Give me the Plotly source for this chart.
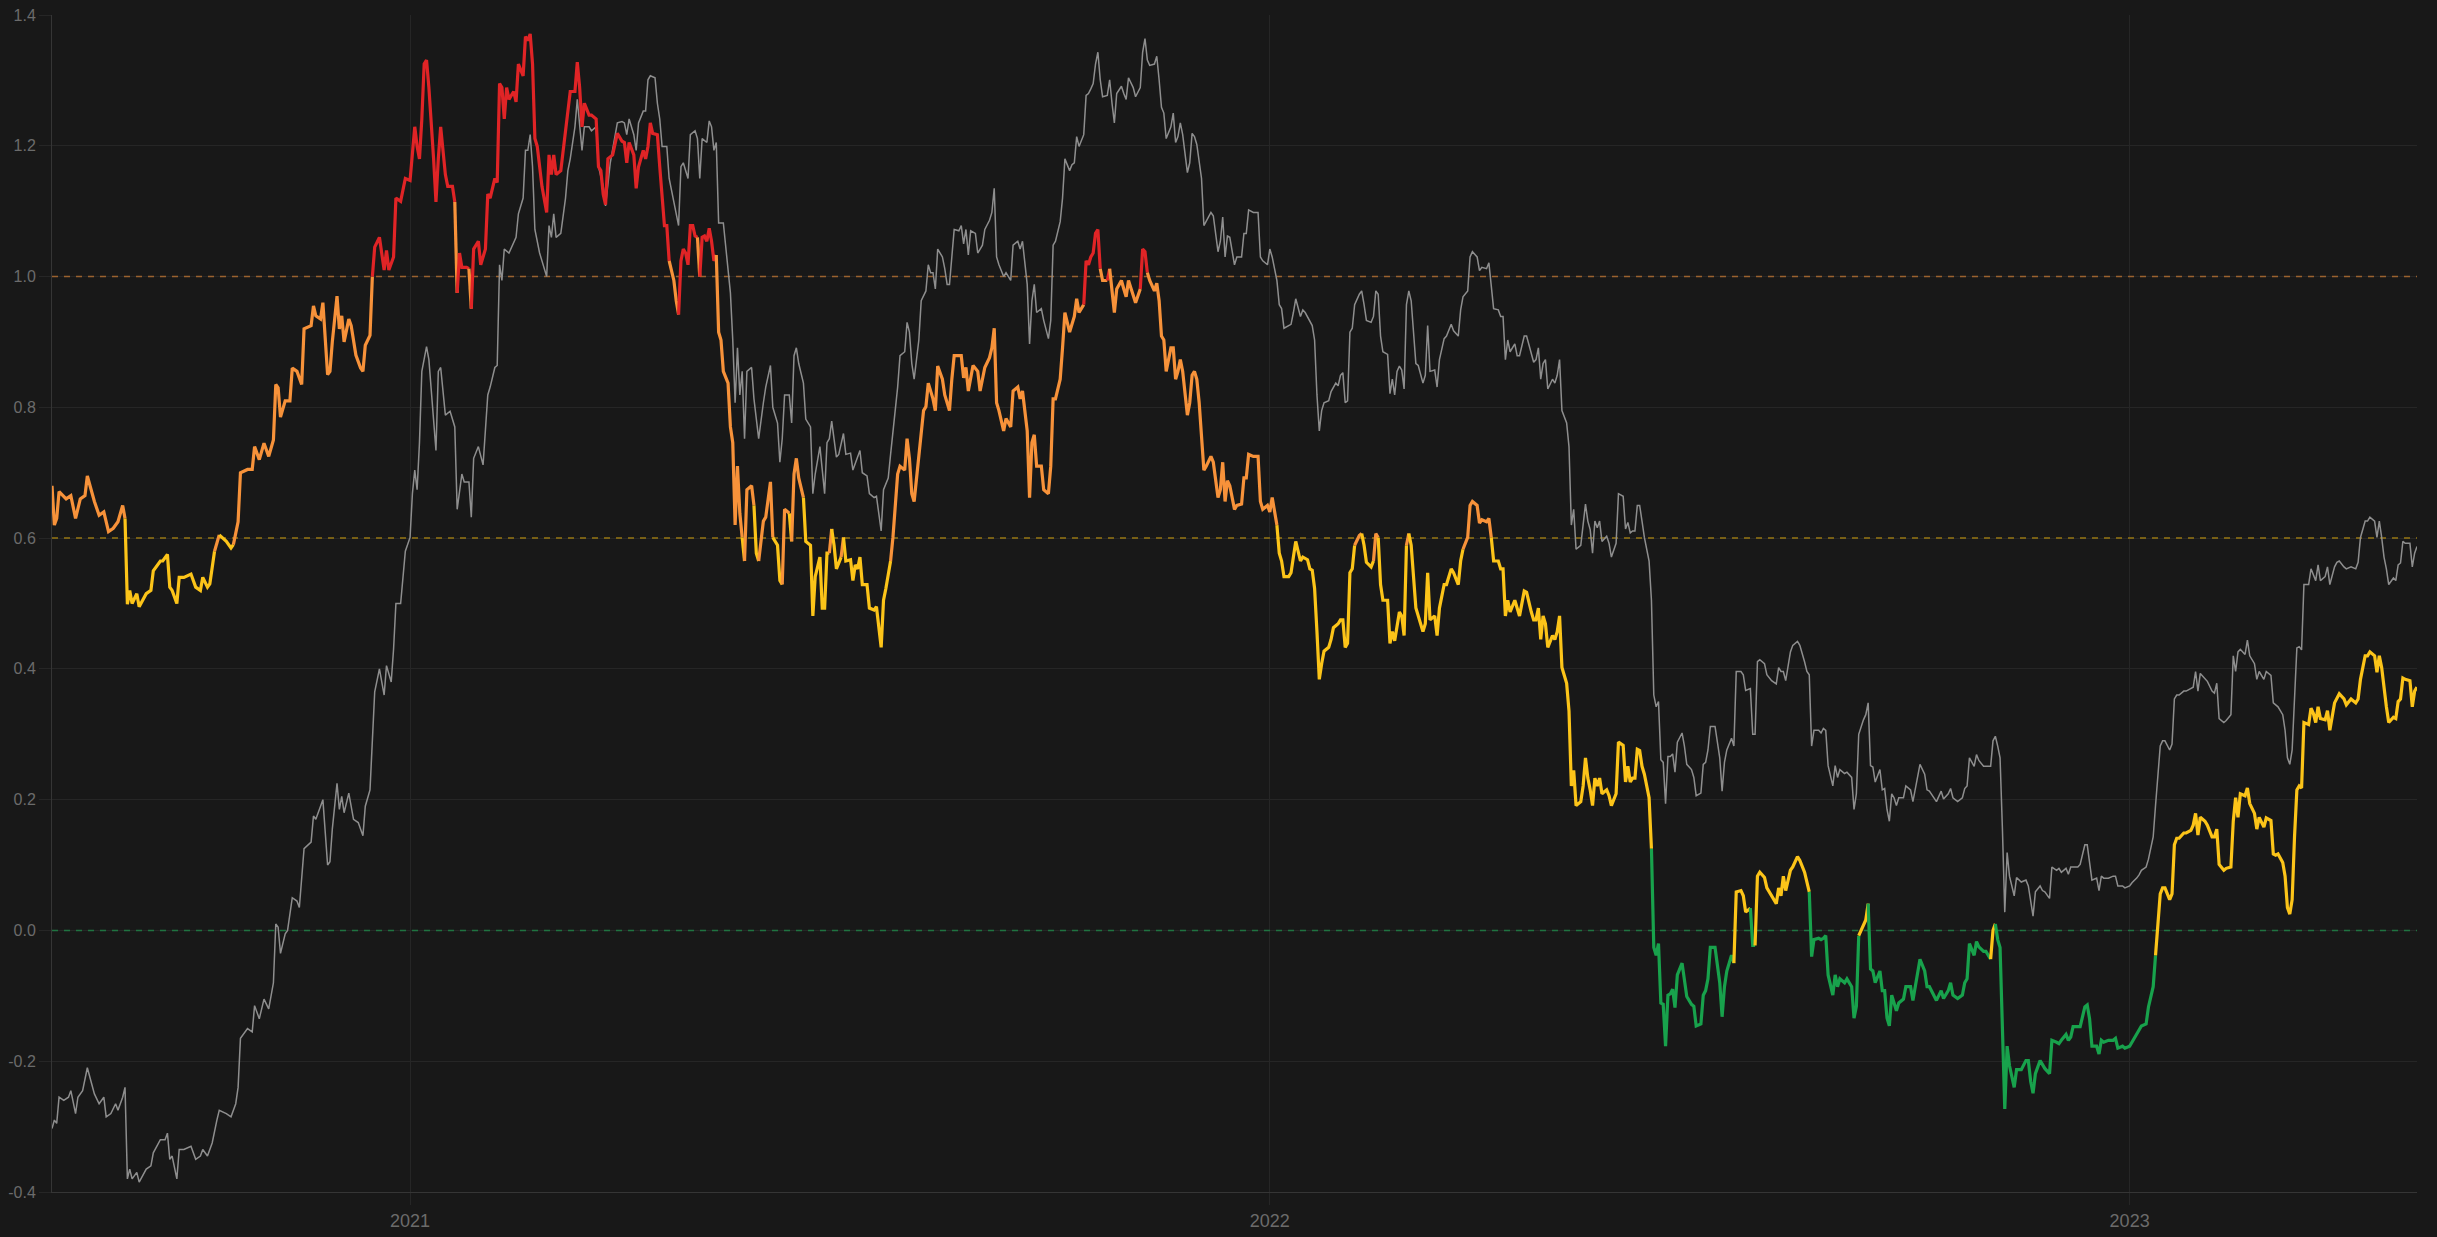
import pandas as pd
import plotly.graph_objects as go

START_DATE = "2020-08-02"

# (days since START_DATE, value)
gray_points = [
    (0, -0.303), (1, -0.29), (2, -0.295), (3, -0.255), (5, -0.26), (7, -0.255), (8, -0.245), (10, -0.28),
    (11, -0.255), (13, -0.245), (15, -0.21), (18, -0.25), (20, -0.265), (21, -0.26), (22, -0.255), (23, -0.285),
    (25, -0.28), (27, -0.265), (28, -0.275), (30, -0.255), (31, -0.24), (32, -0.38), (33, -0.365), (34, -0.38),
    (36, -0.37), (37, -0.385), (40, -0.365), (42, -0.36), (43, -0.34), (46, -0.32), (48, -0.32), (49, -0.31),
    (50, -0.35), (51, -0.345), (53, -0.38), (54, -0.335), (56, -0.335), (59, -0.33), (61, -0.35), (63, -0.345),
    (64, -0.335), (66, -0.345), (68, -0.325), (70, -0.29), (71, -0.275), (74, -0.28), (76, -0.285), (78, -0.265),
    (79, -0.24), (80, -0.165), (83, -0.15), (85, -0.155), (86, -0.115), (88, -0.135), (90, -0.105), (92, -0.12),
    (94, -0.08), (95, 0.01), (96, 0.005), (97, -0.035), (99, -0.005), (100, 0.0), (102, 0.05), (104, 0.045),
    (105, 0.035), (107, 0.125), (110, 0.135), (111, 0.175), (112, 0.17), (115, 0.2), (117, 0.10), (118, 0.105),
    (119, 0.155), (121, 0.225), (122, 0.185), (123, 0.205), (124, 0.18), (126, 0.21), (128, 0.17), (130, 0.165),
    (132, 0.145), (133, 0.19), (135, 0.215), (137, 0.365), (139, 0.40), (141, 0.36), (142, 0.405), (144, 0.38),
    (145, 0.43), (146, 0.50), (148, 0.50), (150, 0.58), (152, 0.601), (153, 0.668), (154, 0.704), (155, 0.674),
    (156, 0.746), (157, 0.855), (159, 0.893), (160, 0.873), (162, 0.782), (163, 0.734), (164, 0.855), (165, 0.861),
    (167, 0.788), (169, 0.794), (171, 0.77), (172, 0.644), (174, 0.698), (175, 0.686), (177, 0.686), (178, 0.632),
    (179, 0.722), (181, 0.74), (183, 0.712), (185, 0.819), (186, 0.831), (188, 0.861), (189, 0.864), (190, 1.018),
    (191, 0.994), (192, 1.042), (194, 1.036), (196, 1.054), (197, 1.06), (198, 1.096), (200, 1.12), (201, 1.193),
    (202, 1.193), (203, 1.217), (204, 1.168), (205, 1.072), (207, 1.036), (208, 1.024), (210, 1.0), (211, 1.078),
    (212, 1.06), (213, 1.096), (214, 1.06), (216, 1.066), (218, 1.12), (219, 1.162), (220, 1.18), (222, 1.229),
    (223, 1.271), (225, 1.193), (226, 1.229), (228, 1.229), (229, 1.223), (231, 1.229), (232, 1.168), (234, 1.138),
    (235, 1.108), (237, 1.174), (238, 1.193), (240, 1.235), (242, 1.237), (243, 1.235), (244, 1.217), (245, 1.241),
    (247, 1.217), (248, 1.193), (249, 1.235), (251, 1.253), (252, 1.253), (253, 1.301), (254, 1.307), (256, 1.304),
    (257, 1.265), (258, 1.241), (259, 1.199), (261, 1.199), (262, 1.15), (264, 1.114), (265, 1.096), (266, 1.078),
    (267, 1.168), (268, 1.174), (270, 1.15), (271, 1.217), (273, 1.223), (274, 1.211), (275, 1.15), (276, 1.211),
    (278, 1.205), (279, 1.238), (280, 1.229), (281, 1.193), (282, 1.205), (283, 1.082), (285, 1.082), (287, 1.006),
    (288, 0.975), (289, 0.903), (290, 0.807), (291, 0.891), (292, 0.819), (293, 0.855), (294, 0.752), (295, 0.855),
    (297, 0.861), (298, 0.813), (300, 0.752), (302, 0.807), (303, 0.831), (305, 0.864), (306, 0.8), (308, 0.776),
    (309, 0.716), (310, 0.752), (311, 0.819), (313, 0.819), (314, 0.776), (315, 0.879), (316, 0.891), (317, 0.867),
    (319, 0.837), (320, 0.782), (322, 0.77), (323, 0.668), (324, 0.698), (326, 0.74), (328, 0.668), (329, 0.746),
    (330, 0.752), (331, 0.779), (333, 0.724), (334, 0.728), (336, 0.76), (337, 0.728), (339, 0.73), (340, 0.704),
    (342, 0.724), (343, 0.734), (344, 0.7), (346, 0.695), (347, 0.668), (349, 0.662), (350, 0.664), (352, 0.611),
    (353, 0.674), (355, 0.692), (356, 0.728), (357, 0.764), (359, 0.831), (360, 0.879), (362, 0.885), (363, 0.93),
    (364, 0.915), (365, 0.867), (366, 0.843), (368, 0.903), (369, 0.963), (371, 0.978), (372, 1.018), (373, 1.006),
    (374, 1.006), (375, 0.981), (376, 1.042), (378, 1.03), (379, 1.012), (380, 0.988), (381, 0.988), (382, 1.03),
    (383, 1.072), (385, 1.07), (386, 1.078), (387, 1.05), (388, 1.072), (389, 1.033), (390, 1.07), (392, 1.066),
    (393, 1.036), (395, 1.048), (396, 1.072), (398, 1.086), (399, 1.098), (400, 1.135), (401, 1.03), (402, 1.018),
    (404, 1.0), (405, 1.006), (407, 0.994), (408, 1.048), (410, 1.054), (411, 1.042), (412, 1.054), (414, 0.988),
    (415, 0.897), (416, 0.963), (417, 0.988), (418, 0.945), (420, 0.951), (421, 0.933), (423, 0.905), (424, 0.933),
    (425, 1.048), (426, 1.054), (428, 1.084), (429, 1.12), (430, 1.18), (432, 1.162), (433, 1.171), (434, 1.174),
    (435, 1.214), (436, 1.199), (438, 1.217), (439, 1.277), (440, 1.28), (441, 1.287), (442, 1.295), (443, 1.325),
    (444, 1.343), (445, 1.301), (446, 1.275), (448, 1.277), (449, 1.301), (450, 1.265), (451, 1.235), (452, 1.28),
    (454, 1.291), (455, 1.28), (456, 1.271), (457, 1.304), (459, 1.289), (460, 1.275), (462, 1.289), (463, 1.343),
    (464, 1.364), (465, 1.331), (466, 1.323), (468, 1.325), (469, 1.337), (470, 1.301), (471, 1.259), (472, 1.25),
    (473, 1.211), (475, 1.229), (476, 1.25), (477, 1.205), (478, 1.214), (479, 1.235), (480, 1.217), (482, 1.159),
    (483, 1.174), (484, 1.219), (485, 1.214), (486, 1.202), (488, 1.15), (489, 1.078), (490, 1.084), (492, 1.098),
    (493, 1.093), (495, 1.038), (496, 1.054), (497, 1.091), (498, 1.03), (499, 1.062), (500, 1.06), (502, 1.018),
    (503, 1.03), (505, 1.03), (506, 1.066), (507, 1.066), (508, 1.102), (510, 1.098), (512, 1.098), (513, 1.03),
    (514, 1.024), (516, 1.018), (517, 1.042), (518, 1.03), (519, 1.012), (520, 0.994), (521, 0.957), (522, 0.951),
    (523, 0.921), (525, 0.925), (526, 0.927), (527, 0.945), (528, 0.966), (530, 0.939), (531, 0.949), (532, 0.945),
    (534, 0.933), (535, 0.925), (536, 0.903), (537, 0.819), (538, 0.764), (539, 0.795), (540, 0.807), (542, 0.81),
    (543, 0.824), (545, 0.837), (546, 0.833), (547, 0.849), (548, 0.853), (549, 0.807), (550, 0.81), (551, 0.915),
    (552, 0.921), (553, 0.957), (555, 0.973), (556, 0.978), (557, 0.957), (558, 0.933), (560, 0.93), (561, 0.939),
    (562, 0.978), (563, 0.973), (564, 0.909), (565, 0.885), (567, 0.881), (568, 0.821), (569, 0.843), (570, 0.819),
    (571, 0.855), (572, 0.863), (573, 0.857), (574, 0.828), (575, 0.957), (576, 0.978), (577, 0.963), (579, 0.867),
    (580, 0.864), (582, 0.837), (583, 0.849), (584, 0.925), (585, 0.855), (587, 0.857), (588, 0.831), (589, 0.873),
    (591, 0.905), (592, 0.909), (594, 0.927), (595, 0.917), (597, 0.909), (598, 0.949), (599, 0.969), (601, 0.978),
    (602, 1.03), (603, 1.038), (605, 1.03), (606, 1.009), (607, 1.014), (609, 1.012), (610, 1.021), (611, 0.988),
    (612, 0.951), (614, 0.949), (615, 0.939), (616, 0.939), (617, 0.873), (618, 0.903), (619, 0.885), (621, 0.897),
    (622, 0.879), (623, 0.879), (625, 0.909), (626, 0.909), (628, 0.881), (629, 0.869), (630, 0.873), (631, 0.891),
    (632, 0.843), (633, 0.867), (634, 0.873), (635, 0.828), (637, 0.843), (638, 0.837), (639, 0.849), (640, 0.873),
    (641, 0.795), (643, 0.776), (644, 0.74), (645, 0.62), (646, 0.644), (647, 0.583), (649, 0.589), (650, 0.62),
    (651, 0.652), (652, 0.626), (653, 0.613), (654, 0.577), (655, 0.626), (656, 0.616), (657, 0.626), (658, 0.595),
    (660, 0.603), (661, 0.592), (662, 0.571), (664, 0.592), (665, 0.668), (667, 0.664), (668, 0.614), (669, 0.624),
    (670, 0.608), (671, 0.611), (672, 0.611), (673, 0.65), (674, 0.65), (675, 0.626), (676, 0.601), (678, 0.565),
    (679, 0.505), (680, 0.36), (681, 0.342), (682, 0.35), (683, 0.261), (684, 0.257), (685, 0.194), (686, 0.266),
    (687, 0.266), (688, 0.27), (689, 0.242), (690, 0.288), (692, 0.302), (693, 0.282), (694, 0.254), (696, 0.246),
    (697, 0.234), (698, 0.206), (700, 0.21), (701, 0.254), (702, 0.257), (703, 0.276), (704, 0.312), (706, 0.312),
    (708, 0.264), (709, 0.213), (710, 0.257), (711, 0.276), (713, 0.294), (714, 0.282), (715, 0.396), (717, 0.396),
    (718, 0.391), (719, 0.367), (721, 0.37), (722, 0.3), (723, 0.3), (724, 0.411), (725, 0.414), (727, 0.408),
    (728, 0.391), (730, 0.382), (732, 0.377), (733, 0.402), (734, 0.396), (735, 0.396), (736, 0.382), (738, 0.426),
    (739, 0.436), (741, 0.442), (742, 0.436), (744, 0.411), (745, 0.396), (746, 0.391), (747, 0.282), (748, 0.306),
    (750, 0.306), (751, 0.302), (752, 0.309), (753, 0.306), (754, 0.252), (756, 0.221), (757, 0.252), (758, 0.234),
    (759, 0.246), (761, 0.24), (762, 0.242), (764, 0.234), (765, 0.185), (766, 0.209), (767, 0.3), (769, 0.322),
    (770, 0.33), (771, 0.348), (772, 0.252), (773, 0.25), (774, 0.227), (776, 0.246), (777, 0.215), (778, 0.217),
    (779, 0.185), (780, 0.167), (781, 0.209), (782, 0.203), (783, 0.191), (784, 0.203), (786, 0.203), (787, 0.221),
    (789, 0.215), (790, 0.197), (792, 0.239), (793, 0.254), (795, 0.239), (796, 0.215), (797, 0.213), (799, 0.203),
    (800, 0.197), (802, 0.213), (803, 0.201), (805, 0.209), (806, 0.217), (807, 0.203), (809, 0.197), (811, 0.203),
    (812, 0.217), (813, 0.221), (814, 0.264), (816, 0.251), (817, 0.269), (818, 0.26), (820, 0.251), (821, 0.251),
    (823, 0.251), (824, 0.29), (825, 0.297), (826, 0.282), (827, 0.264), (828, 0.155), (829, 0.028), (830, 0.119),
    (831, 0.083), (833, 0.053), (834, 0.081), (836, 0.074), (838, 0.077), (839, 0.068), (840, 0.041), (841, 0.022),
    (842, 0.059), (844, 0.068), (845, 0.061), (846, 0.059), (848, 0.049), (849, 0.097), (851, 0.092), (852, 0.095),
    (853, 0.089), (855, 0.095), (856, 0.086), (857, 0.097), (858, 0.097), (860, 0.097), (861, 0.101), (863, 0.131),
    (864, 0.131), (865, 0.107), (866, 0.077), (868, 0.08), (869, 0.061), (870, 0.083), (871, 0.08), (873, 0.08),
    (875, 0.083), (876, 0.083), (877, 0.068), (879, 0.068), (880, 0.065), (882, 0.068), (883, 0.073), (885, 0.08),
    (886, 0.085), (887, 0.092), (889, 0.097), (890, 0.109), (892, 0.143), (893, 0.191), (894, 0.245), (895, 0.282),
    (896, 0.29), (897, 0.29), (899, 0.276), (900, 0.285), (901, 0.354), (902, 0.36), (903, 0.36), (905, 0.366),
    (906, 0.366), (908, 0.37), (909, 0.372), (910, 0.396), (911, 0.366), (912, 0.393), (914, 0.384), (915, 0.381),
    (917, 0.366), (918, 0.363), (919, 0.378), (920, 0.324), (922, 0.318), (923, 0.321), (925, 0.33), (926, 0.42),
    (927, 0.396), (928, 0.426), (929, 0.43), (931, 0.422), (932, 0.444), (933, 0.42), (935, 0.408), (936, 0.384),
    (937, 0.396), (939, 0.384), (940, 0.396), (942, 0.39), (943, 0.348), (944, 0.345), (945, 0.342), (947, 0.33),
    (948, 0.306), (949, 0.264), (950, 0.254), (951, 0.276), (952, 0.366), (953, 0.432), (954, 0.434), (955, 0.429),
    (956, 0.529), (958, 0.529), (959, 0.553), (960, 0.544), (961, 0.535), (962, 0.559), (963, 0.535), (965, 0.541),
    (966, 0.556), (967, 0.529), (969, 0.556), (970, 0.563), (971, 0.565), (973, 0.556), (974, 0.553), (976, 0.556),
    (978, 0.553), (979, 0.563), (980, 0.601), (982, 0.626), (983, 0.626), (984, 0.632), (986, 0.626), (987, 0.601),
    (988, 0.626), (989, 0.601), (990, 0.571), (991, 0.553), (992, 0.529), (994, 0.539), (995, 0.535), (996, 0.559),
    (997, 0.562), (998, 0.595), (999, 0.592), (1001, 0.592), (1002, 0.556), (1003, 0.577), (1004, 0.587),
]

signal_points = [
    (0, 0.68), (1, 0.62), (2, 0.63), (3, 0.671), (6, 0.66), (8, 0.665), (10, 0.63), (12, 0.66), (14, 0.665),
    (15, 0.695), (18, 0.656), (20, 0.635), (22, 0.64), (24, 0.61), (26, 0.615), (28, 0.625), (30, 0.65), (31, 0.63),
    (32, 0.499), (33, 0.52), (34, 0.50), (36, 0.515), (37, 0.495), (40, 0.515), (42, 0.52), (43, 0.55), (46, 0.565),
    (47, 0.565), (49, 0.575), (50, 0.525), (51, 0.52), (53, 0.50), (54, 0.54), (56, 0.54), (59, 0.545), (61, 0.525),
    (63, 0.52), (64, 0.54), (66, 0.525), (67, 0.53), (69, 0.58), (71, 0.605), (74, 0.595), (76, 0.585), (77, 0.59),
    (79, 0.625), (80, 0.70), (83, 0.705), (85, 0.705), (86, 0.74), (88, 0.72), (90, 0.745), (92, 0.725), (94, 0.75),
    (95, 0.835), (96, 0.83), (97, 0.785), (99, 0.81), (101, 0.81), (102, 0.86), (104, 0.855), (106, 0.835),
    (107, 0.92), (110, 0.925), (111, 0.955), (112, 0.94), (114, 0.935), (115, 0.96), (117, 0.85), (118, 0.855),
    (119, 0.90), (121, 0.97), (122, 0.92), (123, 0.94), (124, 0.90), (126, 0.935), (127, 0.925), (129, 0.88),
    (131, 0.86), (132, 0.855), (133, 0.895), (135, 0.91), (136, 1.0), (137, 1.045), (139, 1.06), (141, 1.01),
    (142, 1.04), (143, 1.01), (145, 1.03), (146, 1.12), (148, 1.115), (150, 1.15), (152, 1.147), (153, 1.193),
    (154, 1.229), (155, 1.199), (156, 1.18), (157, 1.241), (158, 1.325), (159, 1.331), (160, 1.289), (162, 1.18),
    (163, 1.114), (164, 1.18), (165, 1.229), (167, 1.156), (168, 1.138), (170, 1.138), (171, 1.114), (172, 0.975),
    (173, 1.036), (174, 1.014), (176, 1.014), (177, 1.012), (178, 0.951), (179, 1.042), (181, 1.054), (182, 1.018),
    (184, 1.042), (185, 1.126), (186, 1.12), (188, 1.15), (189, 1.144), (190, 1.295), (191, 1.289), (192, 1.241),
    (193, 1.289), (194, 1.271), (196, 1.283), (197, 1.267), (198, 1.325), (200, 1.307), (201, 1.367), (202, 1.361),
    (203, 1.371), (204, 1.325), (205, 1.211), (206, 1.199), (208, 1.138), (209, 1.114), (210, 1.098), (211, 1.186),
    (212, 1.156), (213, 1.186), (214, 1.156), (216, 1.162), (218, 1.223), (219, 1.259), (220, 1.283), (222, 1.283),
    (223, 1.328), (224, 1.289), (225, 1.229), (226, 1.265), (228, 1.247), (229, 1.247), (231, 1.241), (232, 1.168),
    (233, 1.162), (234, 1.126), (235, 1.11), (236, 1.18), (238, 1.186), (240, 1.219), (242, 1.207), (243, 1.205),
    (244, 1.174), (245, 1.205), (247, 1.186), (248, 1.135), (249, 1.168), (251, 1.193), (252, 1.18), (253, 1.199),
    (254, 1.235), (255, 1.219), (257, 1.217), (258, 1.168), (259, 1.12), (260, 1.078), (261, 1.078), (262, 1.024),
    (264, 0.994), (265, 0.963), (266, 0.942), (267, 1.024), (268, 1.042), (269, 1.036), (270, 1.018), (271, 1.078),
    (272, 1.078), (273, 1.062), (274, 1.06), (275, 1.0), (276, 1.06), (277, 1.062), (278, 1.054), (279, 1.074),
    (280, 1.054), (281, 1.024), (282, 1.033), (283, 0.915), (284, 0.903), (285, 0.855), (287, 0.837), (288, 0.77),
    (289, 0.746), (290, 0.62), (291, 0.71), (292, 0.638), (293, 0.601), (294, 0.565), (295, 0.674), (297, 0.68),
    (298, 0.65), (299, 0.577), (300, 0.565), (302, 0.626), (303, 0.632), (305, 0.686), (306, 0.601), (308, 0.589),
    (309, 0.535), (310, 0.529), (311, 0.644), (313, 0.638), (314, 0.595), (315, 0.698), (316, 0.722), (317, 0.692),
    (319, 0.662), (320, 0.595), (322, 0.589), (323, 0.481), (324, 0.541), (326, 0.571), (327, 0.493), (328, 0.493),
    (329, 0.577), (330, 0.577), (331, 0.614), (332, 0.589), (333, 0.553), (335, 0.571), (336, 0.601), (337, 0.565),
    (339, 0.567), (340, 0.535), (341, 0.559), (342, 0.553), (343, 0.571), (344, 0.529), (346, 0.529), (347, 0.493),
    (349, 0.49), (350, 0.495), (352, 0.433), (353, 0.505), (354, 0.523), (356, 0.565), (357, 0.601), (359, 0.698),
    (360, 0.71), (362, 0.704), (363, 0.752), (364, 0.722), (365, 0.668), (366, 0.656), (368, 0.722), (370, 0.795),
    (371, 0.801), (372, 0.837), (374, 0.813), (375, 0.795), (376, 0.863), (378, 0.843), (379, 0.819), (381, 0.795),
    (382, 0.843), (383, 0.879), (385, 0.879), (386, 0.879), (387, 0.845), (388, 0.861), (389, 0.825), (391, 0.864),
    (393, 0.855), (394, 0.825), (395, 0.843), (396, 0.861), (398, 0.876), (399, 0.891), (400, 0.921), (401, 0.807),
    (402, 0.795), (404, 0.764), (405, 0.783), (407, 0.77), (408, 0.825), (410, 0.831), (411, 0.813), (412, 0.825),
    (414, 0.764), (415, 0.662), (416, 0.746), (417, 0.758), (418, 0.71), (420, 0.71), (421, 0.674), (423, 0.668),
    (424, 0.71), (425, 0.813), (426, 0.813), (428, 0.843), (429, 0.891), (430, 0.945), (432, 0.915), (433, 0.927),
    (434, 0.939), (435, 0.966), (436, 0.945), (438, 0.957), (439, 1.024), (440, 1.018), (441, 1.03), (442, 1.036),
    (443, 1.066), (444, 1.072), (445, 1.012), (446, 0.994), (448, 0.994), (449, 1.012), (450, 0.975), (451, 0.945),
    (452, 0.981), (454, 0.994), (455, 0.981), (456, 0.969), (457, 0.994), (459, 0.969), (460, 0.96), (462, 0.981),
    (463, 1.042), (464, 1.038), (465, 1.006), (466, 0.994), (468, 0.978), (469, 0.99), (470, 0.963), (471, 0.909),
    (472, 0.903), (473, 0.855), (475, 0.891), (476, 0.891), (477, 0.843), (478, 0.855), (479, 0.873), (480, 0.855),
    (482, 0.788), (483, 0.807), (484, 0.849), (485, 0.855), (486, 0.843), (487, 0.807), (489, 0.704), (490, 0.71),
    (492, 0.725), (493, 0.716), (495, 0.662), (496, 0.674), (497, 0.716), (498, 0.656), (499, 0.688), (500, 0.68),
    (502, 0.644), (503, 0.65), (505, 0.652), (506, 0.692), (507, 0.692), (508, 0.728), (510, 0.725), (512, 0.725),
    (513, 0.656), (514, 0.644), (516, 0.65), (517, 0.64), (518, 0.662), (519, 0.644), (520, 0.62), (521, 0.577),
    (522, 0.565), (523, 0.541), (525, 0.541), (526, 0.547), (527, 0.571), (528, 0.595), (530, 0.565), (531, 0.571),
    (533, 0.567), (534, 0.553), (535, 0.551), (536, 0.523), (537, 0.457), (538, 0.384), (539, 0.408), (540, 0.427),
    (542, 0.433), (543, 0.445), (544, 0.463), (546, 0.469), (547, 0.475), (548, 0.475), (549, 0.433), (550, 0.439),
    (551, 0.547), (552, 0.553), (553, 0.589), (555, 0.604), (556, 0.607), (557, 0.589), (558, 0.563), (560, 0.556),
    (561, 0.565), (562, 0.607), (563, 0.601), (564, 0.529), (565, 0.505), (567, 0.505), (568, 0.439), (569, 0.457),
    (570, 0.443), (571, 0.469), (572, 0.487), (573, 0.481), (574, 0.451), (575, 0.589), (576, 0.607), (577, 0.589),
    (579, 0.493), (580, 0.481), (582, 0.457), (583, 0.469), (584, 0.547), (585, 0.475), (587, 0.481), (588, 0.451),
    (589, 0.493), (591, 0.529), (592, 0.529), (594, 0.553), (595, 0.547), (597, 0.529), (598, 0.565), (599, 0.583),
    (601, 0.601), (602, 0.65), (603, 0.656), (605, 0.65), (606, 0.623), (607, 0.628), (609, 0.625), (610, 0.63),
    (611, 0.601), (612, 0.565), (614, 0.565), (615, 0.553), (616, 0.553), (617, 0.481), (618, 0.505), (619, 0.487),
    (621, 0.505), (622, 0.493), (623, 0.481), (625, 0.519), (626, 0.517), (628, 0.487), (629, 0.475), (630, 0.475),
    (631, 0.493), (632, 0.445), (633, 0.481), (634, 0.469), (635, 0.433), (637, 0.451), (638, 0.445), (639, 0.457),
    (640, 0.481), (641, 0.402), (643, 0.378), (644, 0.336), (645, 0.221), (646, 0.245), (647, 0.191), (649, 0.197),
    (650, 0.221), (651, 0.264), (652, 0.233), (653, 0.215), (654, 0.191), (655, 0.233), (656, 0.221), (657, 0.233),
    (658, 0.209), (660, 0.215), (661, 0.206), (662, 0.191), (664, 0.209), (665, 0.288), (667, 0.283), (668, 0.227),
    (669, 0.251), (670, 0.227), (671, 0.233), (672, 0.233), (673, 0.277), (674, 0.275), (675, 0.251), (676, 0.239),
    (678, 0.203), (679, 0.125), (680, -0.026), (681, -0.038), (682, -0.02), (683, -0.111), (684, -0.113),
    (685, -0.177), (686, -0.099), (687, -0.097), (688, -0.09), (689, -0.118), (690, -0.068), (692, -0.05),
    (693, -0.072), (694, -0.101), (696, -0.113), (697, -0.116), (698, -0.146), (700, -0.143), (701, -0.099),
    (702, -0.092), (703, -0.074), (704, -0.026), (706, -0.026), (708, -0.08), (709, -0.132), (710, -0.086),
    (711, -0.062), (713, -0.038), (714, -0.05), (715, 0.059), (717, 0.061), (718, 0.053), (719, 0.028), (721, 0.034),
    (722, -0.023), (723, -0.023), (724, 0.083), (725, 0.089), (727, 0.081), (728, 0.065), (730, 0.053), (732, 0.041),
    (733, 0.065), (734, 0.053), (735, 0.083), (736, 0.061), (738, 0.092), (739, 0.097), (741, 0.113), (742, 0.107),
    (744, 0.089), (745, 0.071), (746, 0.059), (747, -0.04), (748, -0.014), (750, -0.012), (751, -0.014),
    (752, -0.012), (753, -0.008), (754, -0.068), (756, -0.099), (757, -0.068), (758, -0.086), (759, -0.074),
    (761, -0.08), (762, -0.074), (764, -0.086), (765, -0.134), (766, -0.116), (767, -0.008), (769, 0.01),
    (770, 0.016), (771, 0.041), (772, -0.059), (773, -0.062), (774, -0.08), (776, -0.062), (777, -0.092),
    (778, -0.092), (779, -0.134), (780, -0.146), (781, -0.099), (782, -0.111), (783, -0.123), (784, -0.111),
    (786, -0.105), (787, -0.086), (789, -0.086), (790, -0.107), (792, -0.068), (793, -0.044), (795, -0.062),
    (796, -0.086), (797, -0.086), (799, -0.101), (800, -0.107), (802, -0.092), (803, -0.104), (805, -0.092),
    (806, -0.08), (807, -0.099), (809, -0.104), (811, -0.099), (812, -0.08), (813, -0.074), (814, -0.02),
    (816, -0.038), (817, -0.017), (818, -0.025), (820, -0.032), (821, -0.032), (823, -0.044), (824, 0.0),
    (825, 0.01), (826, -0.014), (827, -0.026), (828, -0.14), (829, -0.273), (830, -0.177), (831, -0.207),
    (833, -0.24), (834, -0.213), (836, -0.213), (838, -0.199), (839, -0.199), (840, -0.231), (841, -0.249),
    (842, -0.219), (844, -0.199), (845, -0.205), (846, -0.211), (848, -0.219), (849, -0.168), (851, -0.171),
    (852, -0.173), (853, -0.168), (855, -0.159), (856, -0.168), (857, -0.163), (858, -0.147), (860, -0.147),
    (861, -0.147), (863, -0.117), (864, -0.114), (865, -0.135), (866, -0.177), (868, -0.177), (869, -0.189),
    (870, -0.168), (871, -0.171), (873, -0.168), (875, -0.168), (876, -0.165), (877, -0.18), (879, -0.177),
    (880, -0.18), (882, -0.177), (883, -0.171), (885, -0.159), (886, -0.153), (887, -0.146), (889, -0.143),
    (890, -0.117), (892, -0.086), (893, -0.038), (894, 0.01), (895, 0.056), (896, 0.065), (897, 0.065),
    (899, 0.047), (900, 0.056), (901, 0.131), (902, 0.141), (903, 0.141), (905, 0.149), (906, 0.149), (908, 0.153),
    (909, 0.161), (910, 0.179), (911, 0.146), (912, 0.173), (914, 0.167), (915, 0.161), (917, 0.143), (918, 0.143),
    (919, 0.155), (920, 0.101), (922, 0.092), (923, 0.095), (925, 0.097), (926, 0.167), (927, 0.203), (928, 0.173),
    (929, 0.209), (931, 0.206), (932, 0.218), (933, 0.194), (935, 0.179), (936, 0.155), (937, 0.173), (939, 0.158),
    (940, 0.172), (942, 0.168), (943, 0.117), (944, 0.115), (945, 0.117), (947, 0.104), (948, 0.083), (949, 0.035),
    (950, 0.025), (951, 0.047), (952, 0.143), (953, 0.215), (954, 0.221), (955, 0.218), (956, 0.318), (958, 0.315),
    (959, 0.34), (960, 0.332), (961, 0.318), (962, 0.342), (963, 0.324), (965, 0.322), (966, 0.336), (967, 0.306),
    (969, 0.348), (970, 0.354), (971, 0.362), (973, 0.354), (974, 0.345), (976, 0.354), (978, 0.348), (979, 0.354),
    (980, 0.384), (982, 0.42), (983, 0.42), (984, 0.426), (986, 0.42), (987, 0.395), (988, 0.42), (989, 0.402),
    (990, 0.366), (991, 0.342), (992, 0.318), (994, 0.326), (995, 0.324), (996, 0.35), (997, 0.354), (998, 0.386),
    (999, 0.384), (1001, 0.382), (1002, 0.342), (1003, 0.366), (1004, 0.372),
]

# colour bands of the signal line
BAND_LIMITS = [0.0, 0.6, 1.0]
BAND_COLORS = ["#18a24c", "#fcc419", "#f7923a", "#e02426"]

REF_LEVELS = [1.0, 0.6, 0.0]
REF_COLORS = ["#9a622f", "#957513", "#1f7341"]

Y_TICKS = [-0.4, -0.2, 0.0, 0.2, 0.4, 0.6, 0.8, 1.0, 1.2, 1.4]
Y_TICK_LABELS = ["-0.4", "-0.2", "0.0", "0.2", "0.4", "0.6", "0.8", "1.0", "1.2", "1.4"]
X_TICKS = ["2021-01-01", "2022-01-01", "2023-01-01"]
X_TICK_LABELS = ["2021", "2022", "2023"]

BG = "#181818"
GRID = "#262626"
AXIS = "#353535"
TICK_FONT = "#6b6b6b"


def to_dates(points):
    pts = sorted(dict(points).items())
    days = [d for d, _ in pts]
    vals = [v for _, v in pts]
    dates = pd.Timestamp(START_DATE) + pd.to_timedelta(days, unit="D")
    return list(dates), vals


def band_color(v):
    if v < BAND_LIMITS[0]:
        return BAND_COLORS[0]
    if v < BAND_LIMITS[1]:
        return BAND_COLORS[1]
    if v <= BAND_LIMITS[2]:
        return BAND_COLORS[2]
    return BAND_COLORS[3]


fig = go.Figure()

gx, gy = to_dates(gray_points)
sx, sy = to_dates(signal_points)

# dashed reference levels (drawn first, above the grid, below the data)
for lvl, col in zip(REF_LEVELS, REF_COLORS):
    fig.add_trace(go.Scatter(x=[gx[0], gx[-1]], y=[lvl, lvl], mode="lines",
                             line=dict(color=col, width=1.5, dash="6px,6px"),
                             hoverinfo="skip"))

fig.add_trace(go.Scatter(x=gx, y=gy, mode="lines",
                         line=dict(color="#8e8e8e", width=1.5), hoverinfo="skip"))

cols = [band_color(v) for v in sy]
start = 0
cur = cols[1]
for i in range(2, len(sy) + 1):
    if i == len(sy) or cols[i] != cur:
        fig.add_trace(go.Scatter(x=sx[start:i], y=sy[start:i], mode="lines",
                                 line=dict(color=cur, width=3.2), hoverinfo="skip"))
        if i < len(sy):
            start = i - 1
            cur = cols[i]

fig.update_layout(
    width=2437, height=1237,
    margin=dict(l=52, r=20, t=15, b=45, autoexpand=False),
    paper_bgcolor=BG, plot_bgcolor=BG,
    showlegend=False,
    font=dict(family="Liberation Sans, Arial, sans-serif", color=TICK_FONT, size=16),
    xaxis=dict(
        type="date", range=[gx[0], gx[-1]], automargin=False,
        tickvals=X_TICKS, ticktext=X_TICK_LABELS,
        showgrid=True, gridcolor=GRID, gridwidth=1,
        ticks="outside", ticklen=12, tickcolor=GRID,
        showline=True, linecolor=AXIS, linewidth=1,
        zeroline=False, tickfont=dict(size=18, color=TICK_FONT),
    ),
    yaxis=dict(
        range=[-0.4, 1.4], automargin=False,
        tickvals=Y_TICKS, ticktext=Y_TICK_LABELS,
        showgrid=True, gridcolor=GRID, gridwidth=1,
        ticks="outside", ticklen=12, tickcolor=GRID,
        showline=True, linecolor=AXIS, linewidth=1,
        zeroline=False, tickfont=dict(size=16, color=TICK_FONT),
    ),
)

fig.write_html(
    "out.html",
    config={"displayModeBar": False},
    post_script="document.body.style.margin='0px';document.body.style.overflow='hidden';",
)
